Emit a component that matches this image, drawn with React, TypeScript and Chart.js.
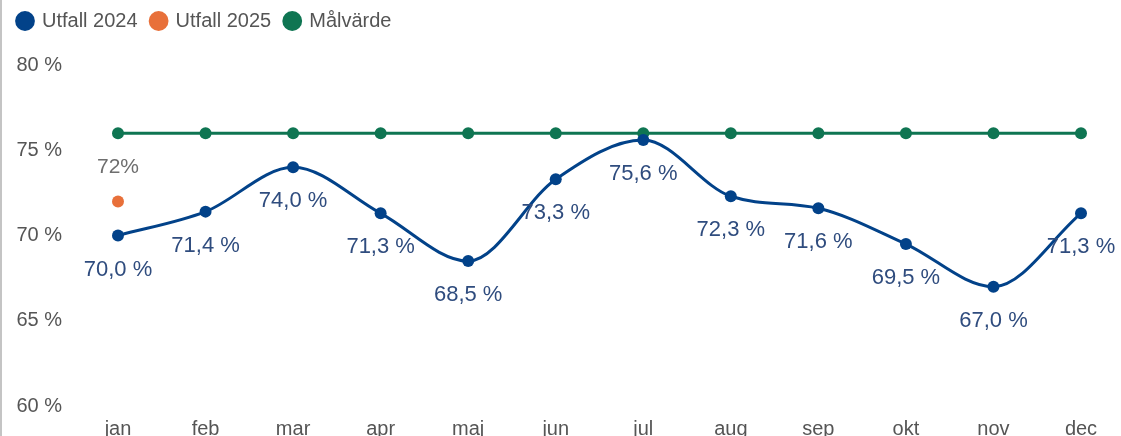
import React, { useEffect, useRef } from "react";
import { Chart, registerables } from "chart.js";

Chart.register(...registerables);

const months = ["jan", "feb", "mar", "apr", "maj", "jun", "jul", "aug", "sep", "okt", "nov", "dec"];
const utfall2024 = [70.0, 71.4, 74.0, 71.3, 68.5, 73.3, 75.6, 72.3, 71.6, 69.5, 67.0, 71.3];
const utfall2025 = [72, null, null, null, null, null, null, null, null, null, null, null];
const malvarde = [76, 76, 76, 76, 76, 76, 76, 76, 76, 76, 76, 76];
const yTicks = [60, 65, 70, 75, 80];

const FONT = "'Liberation Sans', Arial, sans-serif";
const BLUE = "#024289";
const ORANGE = "#E8703A";
const GREEN = "#0F7552";

const legendSpacer = {
  id: "legendSpacer",
  beforeInit(chart: any) {
    const legend = chart.legend;
    if (!legend) return;
    const orig = legend.fit;
    legend.fit = function () {
      orig.call(this);
      this.height += 24;
    };
  },
};

const labelPlugin = {
  id: "pointLabels",
  afterDatasetsDraw(chart: any) {
    const ctx = chart.ctx;
    ctx.save();
    ctx.textAlign = "center";
    ctx.textBaseline = "middle";
    const m0 = chart.getDatasetMeta(0);
    ctx.font = `22px ${FONT}`;
    ctx.fillStyle = "#2F4C7E";
    m0.data.forEach((pt: any, i: number) => {
      const v = utfall2024[i];
      if (v == null) return;
      ctx.fillText(v.toFixed(1).replace(".", ",") + " %", pt.x, pt.y + 34);
    });
    const m1 = chart.getDatasetMeta(1);
    ctx.font = `21px ${FONT}`;
    ctx.fillStyle = "#6E6E6E";
    m1.data.forEach((pt: any, i: number) => {
      const v = utfall2025[i];
      if (v == null) return;
      ctx.fillText(v + "%", pt.x, pt.y - 34);
    });
    ctx.restore();
  },
};

export default function App() {
  const ref = useRef<HTMLCanvasElement>(null);
  useEffect(() => {
    if (!ref.current) return;
    const chart = new Chart(ref.current, {
      type: "line",
      data: {
        labels: months,
        datasets: [
          {
            label: "Utfall 2024",
            data: utfall2024,
            borderColor: BLUE,
            backgroundColor: BLUE,
            borderWidth: 3,
            pointRadius: 6,
            pointBorderWidth: 0,
            cubicInterpolationMode: "monotone",
            order: 1,
          },
          {
            label: "Utfall 2025",
            data: utfall2025,
            borderColor: ORANGE,
            backgroundColor: ORANGE,
            borderWidth: 3,
            pointRadius: 6,
            pointBorderWidth: 0,
            order: 2,
          },
          {
            label: "Målvärde",
            data: malvarde,
            borderColor: GREEN,
            backgroundColor: GREEN,
            borderWidth: 3,
            pointRadius: 6,
            pointBorderWidth: 0,
            order: 3,
          },
        ],
      },
      options: {
        animation: false,
        responsive: true,
        maintainAspectRatio: false,
        layout: { padding: { left: 2, right: 40, top: -3, bottom: 2 } },
        plugins: {
          tooltip: { enabled: false },
          legend: {
            position: "top",
            align: "start",
            labels: {
              usePointStyle: true,
              pointStyle: "circle",
              boxWidth: 14,
              boxHeight: 14,
              padding: 14,
              color: "#555555",
              font: { size: 20, family: FONT },
            },
          },
        },
        scales: {
          x: {
            offset: false,
            grid: { display: false, drawTicks: true, tickLength: 8 },
            border: { display: false },
            ticks: {
              color: "#555555",
              font: { size: 20, family: FONT },
              padding: 3,
              maxRotation: 0,
              autoSkip: false,
            },
          },
          y: {
            min: 60,
            max: 80,
            afterBuildTicks: (axis: any) => {
              axis.ticks = yTicks.map((v) => ({ value: v }));
            },
            afterFit: (axis: any) => {
              axis.width = 114;
            },
            grid: { display: false, drawTicks: true, tickLength: 52 },
            border: { display: false },
            ticks: {
              color: "#555555",
              font: { size: 20, family: FONT },
              padding: 4,
              callback: (v: any) => v + " %",
            },
          },
        },
      },
      plugins: [legendSpacer, labelPlugin],
    });
    return () => chart.destroy();
  }, []);

  return (
    <div
      style={{
        position: "absolute",
        left: 0,
        top: 0,
        width: 1121,
        height: 436,
        overflow: "hidden",
        borderLeft: "2px solid #C4C4C4",
        boxSizing: "border-box",
        background: "#fff",
      }}
    >
      <div style={{ width: 1119, height: 446, position: "relative" }}>
        <canvas ref={ref} />
      </div>
    </div>
  );
}
